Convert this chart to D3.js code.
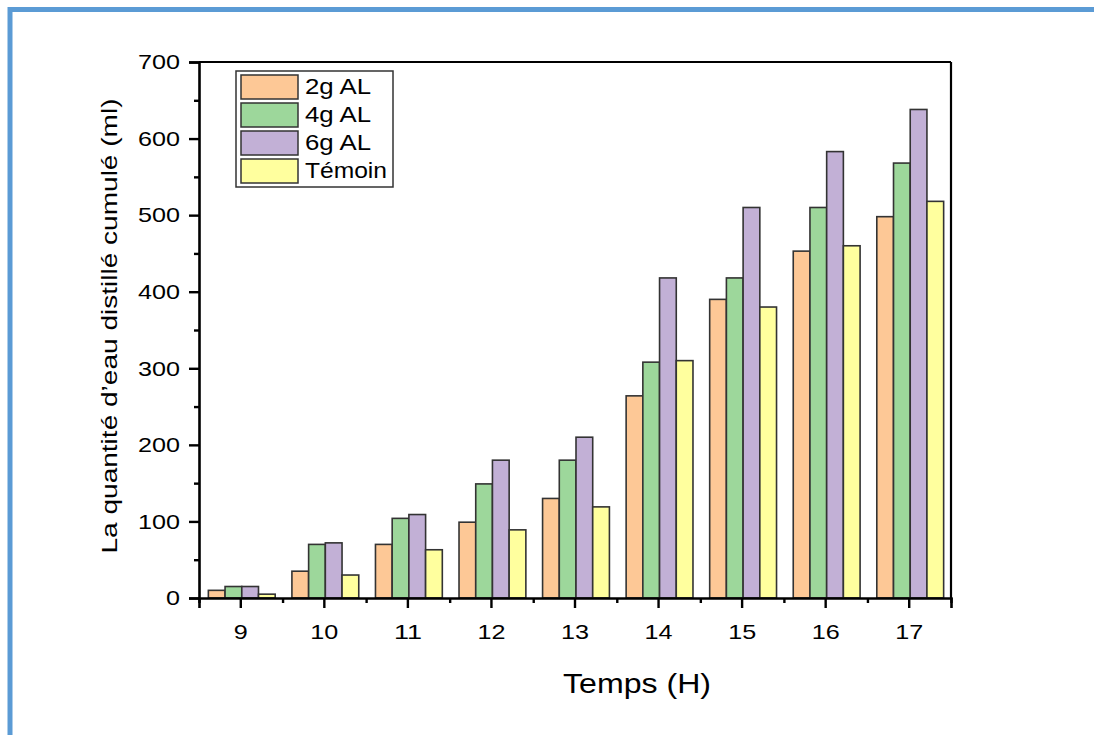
<!DOCTYPE html>
<html>
<head>
<meta charset="utf-8">
<script src="https://cdn.jsdelivr.net/npm/d3@7"></script>
<style>
  html, body { margin: 0; padding: 0; background: #fff; }
  svg { display: block; font-family: "Liberation Sans", Arial, sans-serif; }
</style>
</head>
<body>
<svg id="chart" width="1094" height="735"></svg>
<script>
// Hours of measurement
const hours = ["9", "10", "11", "12", "13", "14", "15", "16", "17"];
// Series names (legend order)
const seriesNames = ["2g AL", "4g AL", "6g AL", "Témoin"];
// Cumulative distilled water (ml) per series
const al2 = [10, 35, 70, 99, 130, 264, 390, 453, 498];
const al4 = [15, 70, 104, 149, 180, 308, 418, 510, 568];
const al6 = [15, 72, 109, 180, 210, 418, 510, 583, 638];
const temoin = [5, 30, 63, 89, 119, 310, 380, 460, 518];
const yTicks = [0, 100, 200, 300, 400, 500, 600, 700];
const colors = ["#fdc896", "#9dd79b", "#c2b0d6", "#ffff9e"];

const series = [al2, al4, al6, temoin];
const svg = d3.select("#chart");

// page frame
svg.append("rect").attr("x", 10).attr("y", 9.5).attr("width", 1200).attr("height", 800)
  .attr("fill", "none").attr("stroke", "#5b9bd5").attr("stroke-width", 5);

const plotL = 199, plotR = 951, plotT = 62, plotB = 598;

const x = d3.scaleBand().domain(hours).range([plotL, plotR]).padding(0);
const y = d3.scaleLinear().domain([0, 700]).range([plotB, plotT]);
const bw = x.bandwidth() / 5;
const x1 = d3.scaleBand().domain(seriesNames).range([0, bw * 4]).padding(0);

// bars
const groups = svg.append("g");
seriesNames.forEach((name, si) => {
  groups.selectAll(null).data(series[si]).enter().append("rect")
    .attr("x", (d, i) => x(hours[i]) + x.bandwidth() / 2 - bw * 2 + x1(name) + 1)
    .attr("y", d => y(d))
    .attr("width", x1.bandwidth())
    .attr("height", d => y(0) - y(d))
    .attr("fill", colors[si])
    .attr("stroke", "#333")
    .attr("stroke-width", 1.6);
});

// frame top and right
svg.append("line").attr("x1", plotL).attr("x2", plotR).attr("y1", plotT).attr("y2", plotT)
  .attr("stroke", "#000").attr("stroke-width", 2.2);
svg.append("line").attr("x1", plotR).attr("x2", plotR).attr("y1", plotT).attr("y2", plotB)
  .attr("stroke", "#000").attr("stroke-width", 2.2);

// y axis
svg.append("g").attr("transform", `translate(${plotL},0)`)
  .call(d3.axisLeft(y).tickValues(yTicks).tickSize(10).tickPadding(9));
const yMinor = svg.append("g").attr("transform", `translate(${plotL},0)`)
  .call(d3.axisLeft(y).tickValues(yTicks.slice(0, -1).map(v => v + 50)).tickSize(5).tickFormat(""));

// x axis
svg.append("g").attr("transform", `translate(0,${plotB})`)
  .call(d3.axisBottom(x).tickSize(10).tickPadding(16));
const xMinorVals = hours.map(h => x(h)).concat([plotR]);
const xLin = d3.scaleLinear().domain([0, 1]).range([0, 1]);
const xMinor = svg.append("g").attr("transform", `translate(0,${plotB})`)
  .call(d3.axisBottom(xLin).tickValues(xMinorVals).tickSize(5).tickFormat(""));

svg.selectAll(".domain").attr("stroke", "#000").attr("stroke-width", 2.6);
yMinor.select(".domain").remove();
xMinor.select(".domain").remove();
svg.selectAll(".tick line").attr("stroke", "#000").attr("stroke-width", 2.4);
svg.selectAll(".tick text")
  .attr("fill", "#000").attr("font-size", 21)
  .attr("font-family", "'Liberation Sans', Arial, sans-serif")
  .attr("lengthAdjust", "spacingAndGlyphs")
  .attr("textLength", function () { return this.textContent.length * 14; });

// axis titles
svg.append("text").attr("x", 637).attr("y", 693).attr("text-anchor", "middle")
  .attr("font-size", 27).attr("fill", "#000")
  .attr("textLength", 148).attr("lengthAdjust", "spacingAndGlyphs")
  .text("Temps (H)");
svg.append("text").attr("transform", "translate(117,326) rotate(-90)").attr("text-anchor", "middle")
  .attr("font-size", 22).attr("fill", "#000")
  .attr("textLength", 455).attr("lengthAdjust", "spacingAndGlyphs")
  .text("La quantité d’eau distillé cumulé (ml)");

// legend
const legendWidths = [66, 66, 66, 82];
const lg = svg.append("g").attr("transform", "translate(236,71)");
lg.append("rect").attr("x", 0).attr("y", 0).attr("width", 157).attr("height", 116)
  .attr("fill", "#fff").attr("stroke", "#333").attr("stroke-width", 1.5);
seriesNames.forEach((name, i) => {
  lg.append("rect").attr("x", 5).attr("y", 4 + i * 28).attr("width", 57).attr("height", 24)
    .attr("fill", colors[i]).attr("stroke", "#333").attr("stroke-width", 1.5);
  lg.append("text").attr("x", 69).attr("y", 22.5 + i * 28).attr("font-size", 22)
    .attr("fill", "#000")
    .attr("textLength", legendWidths[i]).attr("lengthAdjust", "spacingAndGlyphs")
    .text(name);
});
</script>
</body>
</html>
